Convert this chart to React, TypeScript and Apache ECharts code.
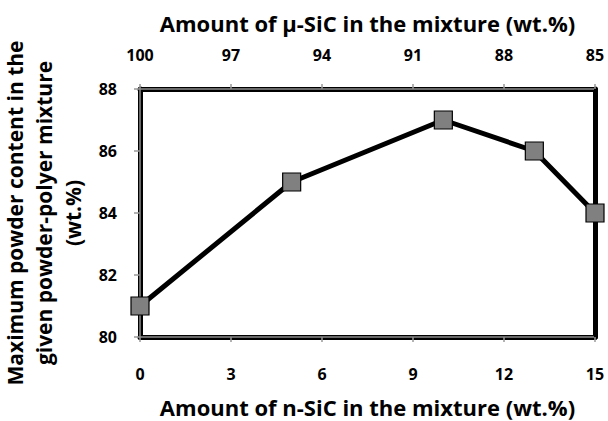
import React, { useEffect, useRef } from "react";
import * as echarts from "echarts";

const nSiC = [0, 5, 10, 13, 15];
const powderContent = [81, 85, 87, 86, 84];
const bottomTitle = "Amount of n-SiC in the mixture (wt.%)";
const topTitle = "Amount of μ-SiC in the mixture (wt.%)";
const yTitle = "Maximum powder content in the\ngiven powder-polyer mixture\n(wt.%)";

const FONT = "Open Sans";

export default function App() {
  const ref = useRef<HTMLDivElement>(null);
  useEffect(() => {
    const chart = echarts.init(ref.current!, null, { renderer: "svg" });
    const L = 140, T = 89, R = 595, B = 337;
    const labelStyle = { fontFamily: FONT, fontWeight: "bold" as const, fontSize: 16, color: "#000" };
    chart.setOption({
      animation: false,
      backgroundColor: "#fff",
      grid: { left: L, top: T, right: 608 - R, bottom: 421 - B, containLabel: false, outerBoundsMode: "none" },
      xAxis: [
        {
          type: "value",
          position: "bottom",
          min: 0,
          max: 15,
          interval: 3,
          name: bottomTitle,
          nameLocation: "middle",
          nameGap: 59,
          nameTextStyle: { fontFamily: FONT, fontWeight: "bold", fontSize: 22, lineHeight: 22, color: "#000" },
          axisLine: { lineStyle: { color: "#000", width: 5 } },
          axisTick: { show: true, length: 5, lineStyle: { color: "#999", width: 1.5 } },
          axisLabel: { ...labelStyle, margin: 29 },
          splitLine: { show: false },
        },
        {
          type: "value",
          position: "top",
          min: 85,
          max: 100,
          interval: 3,
          inverse: true,
          name: topTitle,
          nameLocation: "middle",
          nameGap: 55,
          nameTextStyle: { fontFamily: FONT, fontWeight: "bold", fontSize: 22, color: "#000" },
          axisLine: { lineStyle: { color: "#000", width: 5 } },
          axisTick: { show: true, length: 5, lineStyle: { color: "#999", width: 1.5 } },
          axisLabel: { ...labelStyle, margin: 26 },
          splitLine: { show: false },
        },
      ],
      yAxis: [
        {
          type: "value",
          position: "left",
          min: 80,
          max: 88,
          interval: 2,
          name: yTitle,
          nameLocation: "middle",
          nameGap: 48,
          nameTextStyle: {
            fontFamily: FONT,
            fontWeight: "bold",
            fontSize: 21,
            color: "#000",
            lineHeight: 29,
          },
          axisLine: { show: true, lineStyle: { color: "#000", width: 5 } },
          axisTick: { show: true, length: 6, lineStyle: { color: "#999", width: 1.5 } },
          axisLabel: { ...labelStyle, margin: 23 },
          splitLine: { show: false },
        },
        {
          type: "value",
          position: "right",
          min: 80,
          max: 88,
          interval: 2,
          axisLine: { show: true, lineStyle: { color: "#000", width: 5 } },
          axisTick: { show: false },
          axisLabel: { show: false },
          splitLine: { show: false },
        },
      ],
      graphic: [
        {
          type: "polyline",
          z: 5,
          shape: { points: [[R - 1, T], [L, T], [L, B], [R - 1, B]] },
          style: { stroke: "#8c8c8c", lineWidth: 1.5, fill: "none" },
          silent: true,
        },
      ],
      series: [
        {
          type: "line",
          xAxisIndex: 0,
          yAxisIndex: 0,
          z: 10,
          data: nSiC.map((x, i) => [x, powderContent[i]]),
          lineStyle: { color: "#000", width: 5 },
          symbol: "rect",
          symbolSize: 18,
          itemStyle: { color: "#808080", borderColor: "#000", borderWidth: 1.2 },
          clip: false,
        },
      ],
    });
    return () => chart.dispose();
  }, []);
  return <div ref={ref} style={{ width: 608, height: 421, position: "absolute", left: 0, top: 0 }} />;
}
